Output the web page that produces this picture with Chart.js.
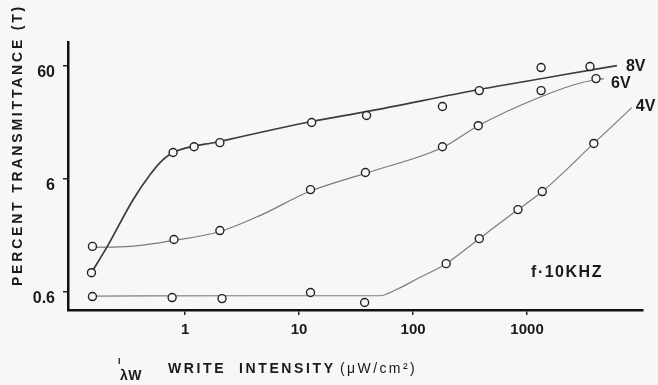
<!DOCTYPE html>
<html>
<head>
<meta charset="utf-8">
<script src="https://cdn.jsdelivr.net/npm/chart.js@4/dist/chart.umd.min.js"></script>
<style>
  html, body { margin: 0; padding: 0; background: #f7f7f5; }
  #wrap { width: 658px; height: 385px; }
</style>
</head>
<body>
<div id="wrap"><canvas id="transChart" width="658" height="385"></canvas></div>
<script>
// tick labels
const xTicks = [1, 10, 100, 1000];
const yTicks = [0.6, 6, 60];

// measured points (open circles)
const points8VX = [0.151, 0.785, 1.2, 2.02, 12.9, 39.1, 181, 381, 1328, 3564];
const points8VY = [0.89, 10.3, 11.6, 12.6, 19.0, 21.9, 26.3, 36.4, 58.2, 59.4];
const points6VX = [0.154, 0.8, 2.02, 12.6, 38.2, 181, 373, 1328, 4025];
const points6VY = [1.52, 1.75, 2.1, 4.84, 6.85, 11.6, 17.8, 36.4, 46.5];
const points4VX = [0.154, 0.77, 2.11, 12.6, 37.6, 195, 381, 832, 1360, 3850];
const points4VY = [0.547, 0.536, 0.525, 0.594, 0.485, 1.07, 1.78, 3.22, 4.65, 12.4];

// hand drawn fit curves
const curve8VX = [0.151, 0.208, 0.351, 0.494, 0.604, 0.785, 2.02, 12.9, 39.1, 381, 1909, 6140];
const curve8VY = [0.89, 1.52, 3.95, 6.57, 8.4, 10.3, 12.9, 19.4, 23.7, 37.2, 49.5, 60.6];
const curve6VX = [0.154, 0.33, 0.785, 2.02, 4.53, 12.3, 39.1, 181, 373, 1276, 3035, 4730];
const curve6VY = [1.49, 1.52, 1.71, 2.06, 2.85, 4.65, 6.8, 11.4, 17.8, 31.6, 42.9, 46.5];
const curve4VX = [0.154, 3.7, 50.8, 71.6, 114, 195, 381, 832, 1360, 3850, 8300];
const curve4VY = [0.552, 0.556, 0.556, 0.631, 0.806, 1.07, 1.78, 3.22, 4.65, 12.4, 25.7];

const seriesNames = ['8V', '6V', '4V'];
const noteText = 'f\u00B710KHZ';
const noteX = 2240;
const noteY = 0.9;

const ink = '#1a1a1a';
const paper = '#f7f7f5';
const fontFam = '"Liberation Sans", Arial, sans-serif';

function pairs(xs, ys) {
  return xs.map((x, i) => ({ x: x, y: ys[i] }));
}

function curveSet(xs, ys, color, width) {
  return {
    data: pairs(xs, ys),
    borderColor: color,
    borderWidth: width,
    pointRadius: 0,
    cubicInterpolationMode: 'monotone',
    fill: false,
    order: 1
  };
}

function pointSet(xs, ys) {
  return {
    data: pairs(xs, ys),
    showLine: false,
    pointStyle: 'circle',
    pointRadius: 4,
    pointBorderWidth: 1.4,
    pointBorderColor: '#222',
    pointBackgroundColor: paper,
    order: 0
  };
}

const textPlugin = {
  id: 'texts',
  beforeDraw(chart) {
    const ctx = chart.ctx;
    ctx.save();
    ctx.fillStyle = paper;
    ctx.fillRect(0, 0, chart.width, chart.height);
    ctx.restore();
  },
  afterDraw(chart) {
    const ctx = chart.ctx;
    const xs = chart.scales.x;
    const ys = chart.scales.y;
    ctx.save();
    ctx.fillStyle = ink;

    // y title
    ctx.save();
    ctx.translate(18, 145);
    ctx.rotate(-Math.PI / 2);
    ctx.textAlign = 'center';
    ctx.textBaseline = 'middle';
    ctx.font = 'bold 14px ' + fontFam;
    ctx.letterSpacing = '2.8px';
    ctx.fillText('PERCENT TRANSMITTANCE (T)', 0, 0);
    ctx.restore();

    // x title with subscript
    ctx.textAlign = 'left';
    ctx.textBaseline = 'alphabetic';
    ctx.font = 'bold 9px ' + fontFam;
    ctx.fillText('I', 118, 364);
    ctx.font = 'bold 14px ' + fontFam;
    ctx.letterSpacing = '0.5px';
    ctx.fillText('\u03BBW', 120, 380);
    ctx.letterSpacing = '2.6px';
    ctx.fillText('WRITE  INTENSITY', 168, 373);
    ctx.font = '14px ' + fontFam;
    ctx.letterSpacing = '2.4px';
    ctx.fillText('(\u03BCW/cm\u00B2)', 340, 373);

    // series labels at the end of each curve
    const ends = [
      [curve8VX, curve8VY, 9, 1],
      [curve6VX, curve6VY, 7, 5],
      [curve4VX, curve4VY, 4, -1]
    ];
    ctx.font = 'bold 16px ' + fontFam;
    ctx.letterSpacing = '0px';
    ctx.textBaseline = 'middle';
    ends.forEach((e, i) => {
      const n = e[0].length - 1;
      const px = xs.getPixelForValue(e[0][n]);
      const py = ys.getPixelForValue(e[1][n]);
      ctx.fillText(seriesNames[i], px + e[2], py + e[3]);
    });

    // frequency note
    ctx.textAlign = 'center';
    ctx.font = 'bold 16px ' + fontFam;
    ctx.letterSpacing = '1.5px';
    ctx.fillText(noteText, xs.getPixelForValue(noteX), ys.getPixelForValue(noteY));
    ctx.restore();
  }
};

new Chart('transChart', {
  type: 'line',
  data: {
    datasets: [
      curveSet(curve8VX, curve8VY, '#3c3c3c', 1.7),
      curveSet(curve6VX, curve6VY, '#7a7a7a', 1.2),
      curveSet(curve4VX, curve4VY, '#7e7e7e', 1.2),
      pointSet(points8VX, points8VY),
      pointSet(points6VX, points6VY),
      pointSet(points4VX, points4VY)
    ]
  },
  options: {
    responsive: false,
    animation: false,
    layout: { padding: { left: 0, right: 15, top: 42, bottom: 0 } },
    plugins: { legend: { display: false }, tooltip: { enabled: false } },
    scales: {
      x: {
        type: 'logarithmic',
        min: 0.094,
        max: 10400,
        afterBuildTicks: s => { s.ticks = xTicks.map(v => ({ value: v })); },
        afterFit: s => { s.height = 75; },
        ticks: {
          callback: v => String(v),
          color: ink,
          font: { family: fontFam, size: 15, weight: 'bold' },
          padding: 6,
          maxRotation: 0,
          autoSkip: false
        },
        grid: { drawOnChartArea: false, tickLength: 5, color: '#222', lineWidth: 1.5 },
        border: { color: '#111', width: 2.5 }
      },
      y: {
        type: 'logarithmic',
        min: 0.416,
        max: 98,
        afterBuildTicks: s => { s.ticks = yTicks.map(v => ({ value: v })); },
        afterFit: s => { s.width = 68; },
        ticks: {
          callback: v => String(v),
          color: ink,
          font: { family: fontFam, size: 16, weight: 'bold' },
          padding: 8,
          labelOffset: 7,
          autoSkip: false
        },
        grid: { drawOnChartArea: false, tickLength: 5, color: '#222', lineWidth: 1.5 },
        border: { color: '#111', width: 2.5 }
      }
    }
  },
  plugins: [textPlugin]
});
</script>
</body>
</html>
